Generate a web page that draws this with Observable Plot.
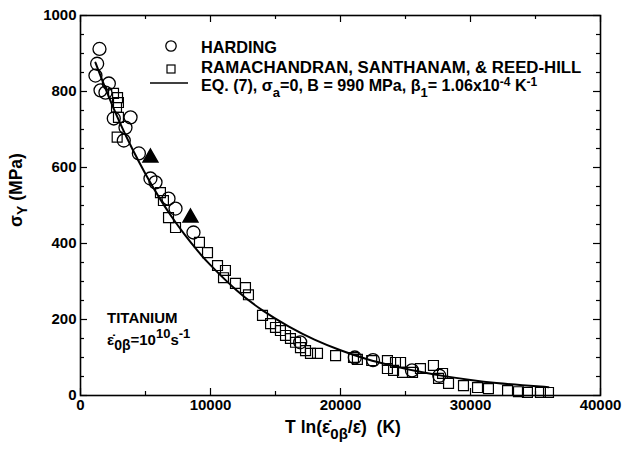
<!DOCTYPE html>
<html><head><meta charset="utf-8">
<script src="https://cdn.jsdelivr.net/npm/d3@7"></script>
<script src="https://cdn.jsdelivr.net/npm/@observablehq/plot@0.6"></script>
<style>
body{margin:0;background:#fff;}
svg text{font-family:"Liberation Sans",Arial,Helvetica,sans-serif;font-weight:bold;}
</style></head><body><div id="chart"></div>
<script>
// Harding (open circles)
const hardingX = [1460,1280,1150,1540,1920,2180,2560,3850,3460,3330,4490,5380,5770,6770,7310,8690,16900,21100,22500,25500,27600];
const hardingY = [912,873,842,803,797,821,729,732,705,671,637,571,561,518,492,429,140,100,93,66,52];
// Ramachandran, Santhanam & Reed-Hill (open squares)
const rsrX = [2540,2850,2920,2770,2920,2820,6150,6380,6770,7310,9150,9770,10540,11000,11150,11920,12690,12920,14000,14620,15000,15380,15770,16150,16540,16920,17310,17690,18230,19620,21000,21300,22400,23610,24230,24620,23610,24080,24770,25540,26150,27150,27850,27540,28310,29460,30540,31380,32850,33690,34380,35380,36000];
const rsrY = [795,784,771,758,732,680,534,513,468,442,403,376,342,310,329,295,284,265,211,189,179,171,158,150,140,126,118,111,111,105,100,95,92,92,87,87,71,66,61,61,71,79,58,45,32,26,21,18,13,10,8,8,8];
// filled triangles
const triX = [5380,8460];
const triY = [626,468];
// Eq. (7) curve
const curveX = [1150,2000,3000,4000,5000,6000,7000,8000,9000,10000,12000,14000,16000,18000,20000,22000,24000,26000,28000,30000,32000,34000,36000];
const curveY = [876,801,720,648,583,524,471,424,381,343,277,224,182,147,119,96,78,63,51,41,33,27,22];
// axis ticks
const xMajor = [0,10000,20000,30000,40000];
const xMinor = [5000,15000,25000,35000];
const yMajor = [0,200,400,600,800,1000];
const yMinor = [50,100,150,250,300,350,450,500,550,650,700,750,850,900,950];

const harding = hardingX.map((x,i)=>({x, y:hardingY[i]}));
const rsr = rsrX.map((x,i)=>({x, y:rsrY[i]}));
const tri = triX.map((x,i)=>({x, y:triY[i]}));
const curve = curveX.map((x,i)=>({x, y:curveY[i]}));

const W=624, H=449, mL=80, mR=24, mT=15, mB=54;
const innerW = W-mL-mR, innerH = H-mT-mB;
const majLen = 7, minLen = 4;

const plot = Plot.plot({
  width: W, height: H,
  marginLeft: mL, marginRight: mR, marginTop: mT, marginBottom: mB,
  style: {fontFamily: '"Liberation Sans",Arial,sans-serif', fontSize: "15px", fontWeight: "bold", color: "black", background: "white", overflow: "visible"},
  x: {domain: [0,40000]},
  y: {domain: [0,1000]},
  marks: [
    Plot.axisX(xMajor, {tickSize: 0, tickPadding: 4, tickFormat: d => String(d), label: null}),
    Plot.axisY(yMajor, {tickSize: 0, tickPadding: 4, tickFormat: d => String(d), label: null}),
    // inward ticks on all four sides
    Plot.tickX(xMajor, {x: d => d, insetTop: innerH - majLen, stroke: "black", strokeWidth: 1.2}),
    Plot.tickX(xMinor, {x: d => d, insetTop: innerH - minLen, stroke: "black", strokeWidth: 1.2}),
    Plot.tickX(xMajor, {x: d => d, insetBottom: innerH - majLen, stroke: "black", strokeWidth: 1.2}),
    Plot.tickX(xMinor, {x: d => d, insetBottom: innerH - minLen, stroke: "black", strokeWidth: 1.2}),
    Plot.tickY(yMajor, {y: d => d, insetRight: innerW - majLen, stroke: "black", strokeWidth: 1.2}),
    Plot.tickY(yMinor, {y: d => d, insetRight: innerW - minLen, stroke: "black", strokeWidth: 1.2}),
    Plot.tickY(yMajor, {y: d => d, insetLeft: innerW - majLen, stroke: "black", strokeWidth: 1.2}),
    Plot.tickY(yMinor, {y: d => d, insetLeft: innerW - minLen, stroke: "black", strokeWidth: 1.2}),
    Plot.frame({stroke: "black", strokeWidth: 1.6}),
    Plot.line(curve, {x: "x", y: "y", curve: "natural", stroke: "black", strokeWidth: 2}),
    Plot.dot(rsr, {x: "x", y: "y", symbol: "square", r: 5.6, stroke: "black", strokeWidth: 1.2, fill: "none"}),
    Plot.dot(harding, {x: "x", y: "y", symbol: "circle", r: 6.5, stroke: "black", strokeWidth: 1.3, fill: "none"}),
    Plot.dot(tri, {x: "x", y: "y", symbol: "triangle", r: 5.5, fill: "black", stroke: "black"})
  ]
});
document.getElementById("chart").appendChild(plot);

const svg = d3.select(plot);
function richText(g, x, y, parts, size, center) {
  const t = g.append("text").attr("x", x).attr("y", y).attr("font-size", size)
    .attr("text-anchor", "start").attr("fill", "black").style("white-space", "pre");
  let prev = 0;
  for (const [s, shift, sz] of parts) {
    const sp = t.append("tspan").text(s).attr("dy", shift - prev);
    if (sz) sp.attr("font-size", sz);
    prev = shift;
  }
  if (center) {
    const w = t.node().getComputedTextLength();
    t.attr("x", x - w / 2);
  }
  return t;
}
const eps = "\u03B5\u0307";
// legend
const lg = svg.append("g");
lg.append("circle").attr("cx", 171).attr("cy", 46).attr("r", 5.2).attr("fill", "none").attr("stroke", "black").attr("stroke-width", 1.3);
lg.append("rect").attr("x", 167).attr("y", 65).attr("width", 8).attr("height", 8).attr("fill", "none").attr("stroke", "black").attr("stroke-width", 1.2);
lg.append("line").attr("x1", 150).attr("x2", 188).attr("y1", 83).attr("y2", 83).attr("stroke", "black").attr("stroke-width", 1.5);
richText(lg, 201, 52.5, [["HARDING", 0]], "16.3px");
richText(lg, 201, 72.5, [["RAMACHANDRAN, SANTHANAM, & REED-HILL", 0]], "16.8px");
richText(lg, 201, 91, [["EQ. (7), \u03C3", 0], ["a", 6, "13px"], ["=0, B = 990 MPa, \u03B2", 0], ["1", 6, "13px"], ["= 1.06x10", 0], ["-4", -5, "12px"], [" K", 0], ["-1", -5, "12px"]], "16.1px");
// annotation
richText(svg, 107, 323, [["TITANIUM", 0]], "15px");
richText(svg, 107, 345, [[eps, 0], ["0\u03B2", 5, "14px"], ["=10", 0], ["10", -7, "13px"], ["s", 0], ["-1", -7, "13px"]], "15px");
// axis labels
richText(svg, 343, 433, [["T ln(" + eps, 0], ["0\u03B2", 6, "15px"], ["/" + eps + ")  (K)", 0]], "17.5px", true);
const yl = svg.append("g").attr("transform", "translate(22,190) rotate(-90)");
richText(yl, 0, 0, [["\u03C3", 0], ["Y", 5, "14px"], [" (MPa)", 0]], "17.5px", true);
</script></body></html>
